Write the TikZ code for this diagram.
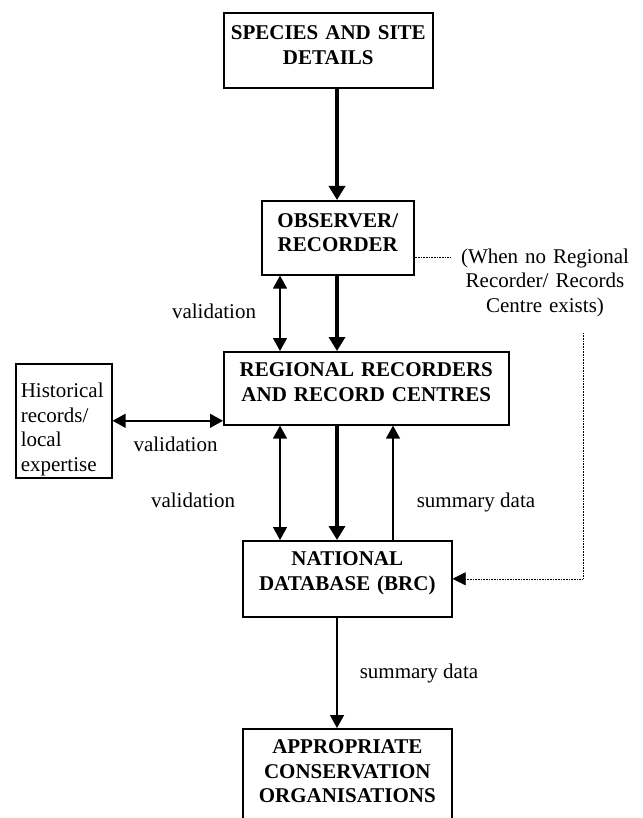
\documentclass[tikz,border=0pt]{standalone}
\usepackage{fontspec}
\setmainfont{Liberation Serif}
\usepackage{tikz}
\usetikzlibrary{arrows.meta,positioning,calc}
\newcommand{\figfont}{\fontsize{21}{24.5}\selectfont}

\begin{document}
\begin{tikzpicture}[x=1pt,y=-1pt,
		every node/.style={font=\figfont},
		box/.style={draw,line width=1.6pt,inner sep=0pt,align=center,anchor=north west,font=\figfont\bfseries},
		arr/.style={line width=1.4pt,-{Triangle[width=14pt,length=13pt]}},
		darr/.style={line width=1.4pt,{Triangle[width=14pt,length=13pt]}-{Triangle[width=14pt,length=13pt]}},
		bigarr/.style={line width=4pt,-{Triangle[width=16pt,length=14pt]}},
		dotline/.style={densely dotted,line width=.6pt}]
		\useasboundingbox (0,0) rectangle (642,818);
		
		\node[box,text width=209pt,text height=27pt,text depth=48pt] (spec) at (223,12) {SPECIES AND SITE\\DETAILS};
		\node[box,text width=152pt,text height=26.7pt,text depth=47.3pt] (obs) at (261,200) {OBSERVER/\\RECORDER};
		\node[box,text width=285pt,text height=24.7pt,text depth=48.3pt] (reg) at (223,351) {REGIONAL RECORDERS\\AND RECORD CENTRES};
		\node[box,text width=209pt,text height=25pt,text depth=51pt] (nat) at (242,540) {NATIONAL\\DATABASE (BRC)};
		\node[box,text width=209pt,text height=24.7pt,text depth=90pt] (app) at (242,728) {APPROPRIATE\\CONSERVATION\\ORGANISATIONS};
		\node[draw,line width=1.6pt,inner xsep=5pt,inner ysep=0pt,text width=86pt,align=left,anchor=north west,text height=34pt,text depth=80pt] (hist) at (15,363) {Historical\\records/\\local\\expertise};
		
		\node[anchor=base,text width=180pt,align=center] (cond) at (545,263) {(When no Regional\\Recorder/ Records\\Centre exists)};
		\node[anchor=base] (val1) at (214,318) {validation};
		\node[anchor=base] (val2) at (175.5,451) {validation};
		\node[anchor=base] (val3) at (193,507) {validation};
		\node[anchor=base] (sum1) at (476,507) {summary data};
		\node[anchor=base] (sum2) at (419,678) {summary data};
		
		\coordinate (xl) at (280,0);
		\coordinate (xm) at (337,0);
		\coordinate (xr) at (393,0);
		\coordinate (dotA) at (450,257);
		\coordinate (dotB) at (583,333);
		
		\draw[bigarr] (xm |- spec.south) -- (xm |- obs.north);
		\draw[bigarr] (xm |- obs.south) -- (xm |- reg.north);
		\draw[darr] (xl |- obs.south) -- (xl |- reg.north);
		\draw[darr] (hist.east) -- (hist.east -| reg.west);
		\draw[darr] (xl |- reg.south) -- (xl |- nat.north);
		\draw[bigarr] (xm |- reg.south) -- (xm |- nat.north);
		\draw[arr] (xr |- nat.north) -- (xr |- reg.south);
		\draw[arr] (xm |- nat.south) -- (xm |- app.north);
		
		\draw[dotline] (obs.east |- dotA) -- (dotA);
		\draw[dotline,-{Triangle[width=13pt,length=13pt]}] (dotB) |- (nat.east);
\end{tikzpicture}
\end{document}
